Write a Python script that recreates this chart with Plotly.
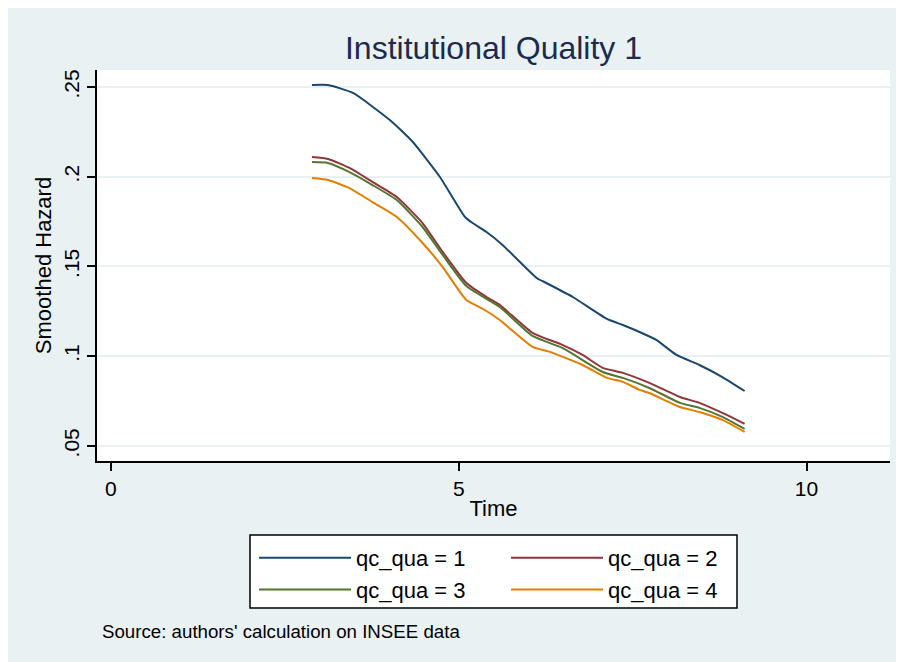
import plotly.graph_objects as go

# ---- data ----
time_1 = [2.89, 3.12, 3.48, 4.01, 4.34, 4.73, 5.09, 5.20, 5.40, 5.63, 6.12, 6.26, 6.64, 7.13, 7.36, 7.60, 7.84, 8.13, 8.46, 8.79, 9.11]
haz_1 = [0.2511, 0.2511, 0.2467, 0.2316, 0.2194, 0.1999, 0.1776, 0.1742, 0.1692, 0.1620, 0.1436, 0.1408, 0.1330, 0.1208, 0.1174, 0.1135, 0.1091, 0.1007, 0.0951, 0.0884, 0.0806]

time_2 = [2.89, 3.12, 3.43, 3.76, 4.11, 4.48, 4.77, 5.11, 5.40, 5.59, 6.06, 6.49, 6.78, 7.07, 7.36, 7.74, 8.18, 8.46, 8.79, 9.11]
haz_2 = [0.2110, 0.2099, 0.2049, 0.1971, 0.1887, 0.1742, 0.1581, 0.1408, 0.1330, 0.1286, 0.1130, 0.1063, 0.1007, 0.0935, 0.0907, 0.0851, 0.0773, 0.0740, 0.0684, 0.0623]

time_3 = [2.89, 3.12, 3.43, 3.76, 4.11, 4.48, 4.77, 5.11, 5.59, 6.06, 6.49, 7.07, 7.36, 7.74, 8.18, 8.46, 8.79, 9.11]
haz_3 = [0.2082, 0.2077, 0.2026, 0.1954, 0.1870, 0.1720, 0.1564, 0.1391, 0.1274, 0.1113, 0.1046, 0.0912, 0.0879, 0.0823, 0.0740, 0.0712, 0.0662, 0.0595]

time_4 = [2.89, 3.12, 3.43, 3.76, 4.11, 4.48, 4.77, 5.11, 5.35, 5.59, 6.06, 6.31, 6.78, 7.13, 7.36, 7.60, 7.74, 8.18, 8.46, 8.79, 9.11]
haz_4 = [0.1993, 0.1982, 0.1937, 0.1859, 0.1776, 0.1631, 0.1497, 0.1313, 0.1263, 0.1202, 0.1052, 0.1024, 0.0951, 0.0879, 0.0857, 0.0812, 0.0795, 0.0717, 0.0689, 0.0645, 0.0578]

series_names = ["qc_qua = 1", "qc_qua = 2", "qc_qua = 3", "qc_qua = 4"]
y_tick_vals = [0.05, 0.10, 0.15, 0.20, 0.25]
y_tick_text = [".05", ".1", ".15", ".2", ".25"]
x_tick_vals = [0, 5, 10]
x_tick_text = ["0", "5", "10"]

colors = ["#1a476f", "#90353b", "#55752f", "#e37e00"]
legends = ["legend", "legend2", "legend", "legend2"]
FONT = "Liberation Sans, Arial, sans-serif"
BG = "#EAF1F3"

# the page is drawn with an 8px body margin, so figure px = reference px - 8
OFF = 8
L, T, PW, PH = 97 - OFF, 70 - OFF, 793, 391
W, H = 904, 662

def px_x(p):  # reference pixel x -> paper x
    return (p - 97) / PW

def px_y(p):  # reference pixel y -> paper y
    return (461 - p) / PH

fig = go.Figure()
for xs, ys, name, col, lg in zip([time_1, time_2, time_3, time_4],
                                 [haz_1, haz_2, haz_3, haz_4],
                                 series_names, colors, legends):
    fig.add_trace(go.Scatter(x=xs, y=ys, mode="lines", name=name, legend=lg,
                             line=dict(color=col, width=2, shape="spline", smoothing=0.5)))

legend_common = dict(
    orientation="v", bgcolor="rgba(0,0,0,0)", borderwidth=0,
    font=dict(family=FONT, size=22, color="#000000"),
    itemwidth=92, tracegroupgap=0, xanchor="left", yanchor="top",
)

fig.update_layout(
    width=W, height=H,
    margin=dict(l=L, r=W - L - PW, t=T, b=H - T - PH, pad=0),
    paper_bgcolor=BG, plot_bgcolor="#ffffff",
    font=dict(family=FONT, color="#000000"),
    title=dict(text="Institutional Quality 1", xref="paper", x=0.5, xanchor="center",
               y=1 - (48 - OFF) / H, yanchor="middle",
               font=dict(family=FONT, size=32, color="#1c2b4d")),
    xaxis=dict(range=[-0.2, 11.2], tickvals=x_tick_vals, ticktext=x_tick_text,
               ticks="outside", ticklen=8, tickwidth=1.5, tickcolor="#000000",
               showline=True, linecolor="#000000", linewidth=1.5,
               showgrid=False, zeroline=False,
               tickfont=dict(family=FONT, size=21, color="#000000"),
               title=dict(text="Time", standoff=2,
                          font=dict(family=FONT, size=22, color="#000000"))),
    yaxis=dict(range=[0.0416, 0.2595], tickvals=y_tick_vals, ticktext=y_tick_text,
               ticks="outside", ticklen=8, tickwidth=1.5, tickcolor="#000000",
               showline=True, linecolor="#000000", linewidth=1.5,
               showgrid=True, gridcolor=BG, gridwidth=1.5, zeroline=False,
               tickangle=-90,
               tickfont=dict(family=FONT, size=21, color="#000000"),
               title=dict(text="Smoothed Hazard", standoff=2,
                          font=dict(family=FONT, size=22, color="#000000"))),
    legend=dict(x=px_x(254), y=px_y(537), **legend_common),
    legend2=dict(x=px_x(506), y=px_y(537), **legend_common),
    showlegend=True,
)

# legend frame
fig.add_shape(type="rect", xref="paper", yref="paper",
              x0=px_x(250), x1=px_x(737), y0=px_y(608), y1=px_y(535),
              line=dict(color="#000000", width=1.5), fillcolor="#ffffff", layer="below")

fig.add_annotation(text="Source: authors' calculation on INSEE data",
                   xref="paper", yref="paper", x=px_x(100), y=px_y(631),
                   xanchor="left", yanchor="middle", showarrow=False,
                   font=dict(family=FONT, size=18.7, color="#000000"))

fig.write_html("out.html")
